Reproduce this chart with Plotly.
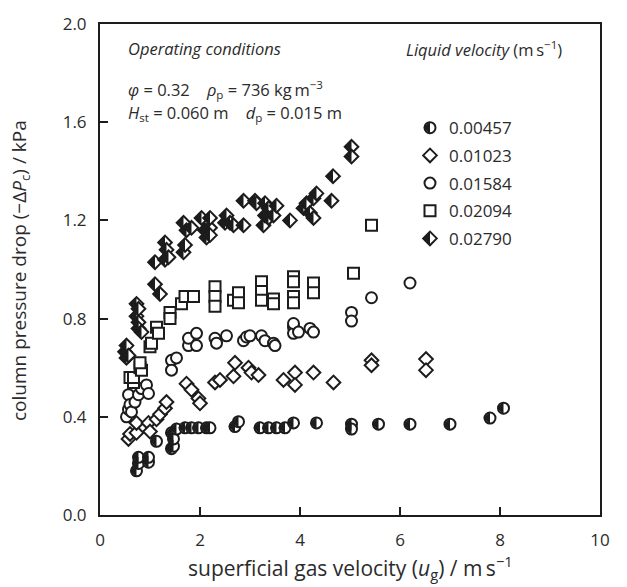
import plotly.graph_objects as go

# Liquid velocity of each data series (m s^-1)
liquid_velocity = ["0.00457", "0.01023", "0.01584", "0.02094", "0.02790"]

# Superficial gas velocity (m/s) and column pressure drop (kPa), one pair per series
ug_00457 = [0.73, 0.77, 0.77, 0.97, 0.97, 1.13, 1.43, 1.43, 1.47, 1.47, 1.53, 1.70, 1.83, 1.97, 2.13,
            2.20, 2.70, 2.77, 3.20, 3.37, 3.53, 3.70, 3.87, 4.33, 5.03, 5.03, 5.57, 6.20, 7.00, 7.80, 8.07]
dp_00457 = [0.18, 0.21, 0.235, 0.215, 0.235, 0.30, 0.27, 0.335, 0.28, 0.31, 0.35, 0.355, 0.355, 0.355, 0.355,
            0.355, 0.36, 0.38, 0.355, 0.355, 0.355, 0.355, 0.375, 0.375, 0.37, 0.35, 0.37, 0.37, 0.37, 0.395, 0.435]

ug_01023 = [0.57, 0.60, 0.73, 0.73, 0.97, 1.00, 1.13, 1.20, 1.30, 1.33, 1.73, 1.83, 1.97, 2.00, 2.30,
            2.40, 2.67, 2.70, 2.97, 3.03, 3.17, 3.67, 3.90, 3.90, 4.27, 4.67, 5.43, 5.43, 6.52, 6.52]
dp_01023 = [0.31, 0.33, 0.335, 0.375, 0.375, 0.34, 0.39, 0.41, 0.435, 0.46, 0.535, 0.51, 0.475, 0.455, 0.54,
            0.55, 0.565, 0.62, 0.60, 0.58, 0.57, 0.55, 0.58, 0.53, 0.58, 0.54, 0.63, 0.61, 0.635, 0.59]

ug_01584 = [0.53, 0.57, 0.57, 0.60, 0.63, 0.70, 0.77, 0.83, 0.93, 0.97, 1.43, 1.43, 1.53, 1.77, 1.77,
            1.93, 1.93, 2.30, 2.33, 2.53, 2.87, 2.93, 3.00, 3.23, 3.30, 3.47, 3.50, 3.87, 3.87, 3.87,
            3.97, 4.20, 4.27, 5.03, 5.03, 5.43, 6.20]
dp_01584 = [0.40, 0.43, 0.49, 0.45, 0.42, 0.46, 0.49, 0.515, 0.53, 0.495, 0.63, 0.59, 0.64, 0.69, 0.72,
            0.74, 0.69, 0.72, 0.70, 0.73, 0.71, 0.725, 0.73, 0.73, 0.71, 0.70, 0.69, 0.765, 0.74, 0.78,
            0.745, 0.76, 0.745, 0.825, 0.79, 0.885, 0.945]

ug_02094 = [0.60, 0.67, 0.67, 0.80, 0.83, 0.80, 1.00, 1.03, 1.13, 1.17, 1.40, 1.40, 1.63, 1.70, 1.87,
            2.30, 2.30, 2.30, 2.67, 2.77, 2.77, 3.23, 3.23, 3.23, 3.47, 3.47, 3.87, 3.87, 3.87, 3.87,
            4.27, 4.27, 5.07, 5.43]
dp_02094 = [0.56, 0.54, 0.56, 0.60, 0.59, 0.62, 0.685, 0.70, 0.765, 0.74, 0.825, 0.80, 0.86, 0.89, 0.89,
            0.93, 0.89, 0.85, 0.875, 0.905, 0.865, 0.95, 0.91, 0.875, 0.88, 0.86, 0.97, 0.95, 0.89, 0.865,
            0.945, 0.905, 0.985, 1.18]

ug_02790 = [0.50, 0.53, 0.53, 0.57, 0.73, 0.73, 0.77, 0.77, 0.77, 0.83, 1.10, 1.20, 1.10, 1.30, 1.30,
            1.33, 1.37, 1.67, 1.67, 1.70, 1.73, 1.83, 2.03, 2.10, 2.13, 2.20, 2.20, 2.20, 2.50, 2.53,
            2.60, 2.67, 2.87, 2.87, 3.10, 3.13, 3.27, 3.30, 3.30, 3.37, 3.37, 3.47, 3.53, 3.80, 4.07,
            4.13, 4.20, 4.27, 4.27, 4.33, 4.63, 4.66, 5.03, 5.03]
dp_02790 = [0.665, 0.69, 0.64, 0.65, 0.86, 0.81, 0.84, 0.785, 0.76, 0.745, 0.94, 0.90, 1.03, 1.11, 1.04,
            1.08, 1.05, 1.19, 1.07, 1.10, 1.16, 1.17, 1.21, 1.16, 1.13, 1.17, 1.21, 1.14, 1.19, 1.22,
            1.19, 1.18, 1.18, 1.28, 1.28, 1.27, 1.18, 1.27, 1.22, 1.25, 1.21, 1.22, 1.26, 1.20, 1.25,
            1.27, 1.23, 1.29, 1.21, 1.31, 1.28, 1.38, 1.50, 1.46]

x_ticks = [0, 2, 4, 6, 8, 10]
y_ticks = [0.0, 0.4, 0.8, 1.2, 1.6, 2.0]

# ---- styling -------------------------------------------------------------
INK = "#1c1c1c"
TEXT = "#2b2b2b"
FONT = "Open Sans"
W, H = 627, 587
M_L, M_R, M_T, M_B = 100, 27, 18, 72
X_RANGE = [0, 10]
Y_RANGE = [0, 2]
PX_PER_X = (W - M_L - M_R) / (X_RANGE[1] - X_RANGE[0])

MS = 11          # circle / square marker size
MS_D = 10.5      # diamond marker size
LW = 2           # marker outline width

# The black left halves are drawn with plotly's right-angled "triangle-ne" symbol rotated so that the
# right angle points left.  For symbol radius r that triangle reaches 0.849 r to the left of its centre,
# 0.424 r to the right, and spans +-1.273 r vertically, so its long edge has to be moved onto the
# marker centre with an x axis that is offset by 0.424 r.
def half_fill(reach):
    r = reach / 1.273
    return 2 * r, 0.424 * r / PX_PER_X


# diamonds: triangle reaching the diamond's own corners
TRI_D_SIZE, TRI_D_SHIFT = half_fill(1.3 * MS_D / 2)
# circles: triangle reaching the outer edge of the outline, so the outline hides the chord gaps
TRI_C_SIZE, TRI_C_SHIFT = half_fill(MS / 2 + LW / 2)

fig = go.Figure()


def markers(x, y, symbol, size, fill="white", xaxis="x", angle=0, lw=LW):
    fig.add_trace(go.Scatter(
        x=x, y=y, mode="markers", xaxis=xaxis, yaxis="y", showlegend=False, hoverinfo="skip",
        cliponaxis=False,
        marker=dict(symbol=symbol, size=size, color=fill, angle=angle,
                    line=dict(color=INK, width=lw))))


def half_circle(x, y):
    markers(x, y, "circle", MS)
    markers(x, y, "triangle-ne", TRI_C_SIZE, fill=INK, xaxis="x3", angle=-135, lw=0)


def half_diamond(x, y):
    markers(x, y, "diamond", MS_D)
    markers(x, y, "triangle-ne", TRI_D_SIZE, fill=INK, xaxis="x2", angle=-135, lw=0)


series = [
    (ug_00457, dp_00457, "half-circle"),
    (ug_01023, dp_01023, "diamond"),
    (ug_01584, dp_01584, "circle"),
    (ug_02094, dp_02094, "square"),
    (ug_02790, dp_02790, "half-diamond"),
]


def draw(x, y, kind):
    if kind == "half-circle":
        half_circle(x, y)
    elif kind == "half-diamond":
        half_diamond(x, y)
    elif kind == "diamond":
        markers(x, y, "diamond", MS_D)
    else:
        markers(x, y, kind, MS)


for x, y, kind in series:
    assert len(x) == len(y)
    draw(x, y, kind)

# ---- legend (built from the same marker styles) --------------------------
LEG_X = 6.6
LEG_Y0 = 1.5775
LEG_DY = 0.1127
annotations = []
for i, (label, (_, _, kind)) in enumerate(zip(liquid_velocity, series)):
    ly = LEG_Y0 - i * LEG_DY
    draw([LEG_X], [ly], kind)
    annotations.append(dict(x=LEG_X + 0.34, y=ly, xref="x", yref="y", text=label, showarrow=False,
                            xanchor="left", yanchor="middle", font=dict(family=FONT, size=17, color=TEXT)))


def px_x(p):
    return (p - M_L) / (W - M_L - M_R)


def px_y(p):
    return (H - M_B - p) / (H - M_T - M_B)


SP = "\u00a0" * 4
note_font = dict(family=FONT, size=16.5, color=TEXT)
annotations += [
    dict(x=px_x(126), y=px_y(43), text="<i>Operating conditions</i>"),
    dict(x=px_x(404), y=px_y(43), text="<i>Liquid velocity</i> (m\u2009s<sup>\u22121</sup>)"),
    dict(x=px_x(126), y=px_y(84),
         text=f"<i>\u03c6</i> = 0.32{SP}<i>\u03c1</i><sub>p</sub> = 736 kg\u2009m<sup>\u22123</sup>"),
    dict(x=px_x(126), y=px_y(108),
         text=f"<i>H</i><sub>st</sub> = 0.060 m{SP}<i>d</i><sub>p</sub> = 0.015 m"),
]
for a in annotations[-4:]:
    a.update(xref="paper", yref="paper", showarrow=False, xanchor="left", yanchor="middle", font=note_font)

# axis titles
annotations += [
    dict(x=px_x(350), y=px_y(568), xref="paper", yref="paper", showarrow=False, xanchor="center",
         yanchor="middle", font=dict(family=FONT, size=21, color=TEXT),
         text="superficial gas velocity (<i>u</i><sub>g</sub>) / m\u2009s<sup>\u22121</sup>"),
    dict(x=px_x(20), y=px_y(268), xref="paper", yref="paper", showarrow=False, xanchor="center",
         yanchor="middle", textangle=-90, font=dict(family=FONT, size=19, color=TEXT),
         text="column pressure drop (\u2212\u0394<i>P</i><sub>c</sub>) / kPa"),
]

axis_common = dict(showgrid=False, zeroline=False, showline=True, linewidth=2, linecolor=INK, mirror=True,
                   ticks="inside", ticklen=8, tickwidth=2, tickcolor=INK,
                   tickfont=dict(family=FONT, size=17, color=TEXT))


def shifted_x(shift):
    return dict(range=[X_RANGE[0] + shift, X_RANGE[1] + shift], overlaying="x", visible=False)


fig.update_layout(
    width=W, height=H,
    margin=dict(l=M_L, r=M_R, t=M_T, b=M_B),
    paper_bgcolor="white", plot_bgcolor="white",
    showlegend=False,
    xaxis=dict(range=X_RANGE, tickvals=x_ticks, ticktext=[str(t) for t in x_ticks],
               ticklabelstandoff=9, **axis_common),
    xaxis2=shifted_x(TRI_D_SHIFT),
    xaxis3=shifted_x(TRI_C_SHIFT),
    yaxis=dict(range=Y_RANGE, tickvals=y_ticks, ticktext=[f"{t:.1f}" for t in y_ticks],
               ticklabelstandoff=8, **axis_common),
    annotations=annotations,
)

fig.write_html("out.html")
